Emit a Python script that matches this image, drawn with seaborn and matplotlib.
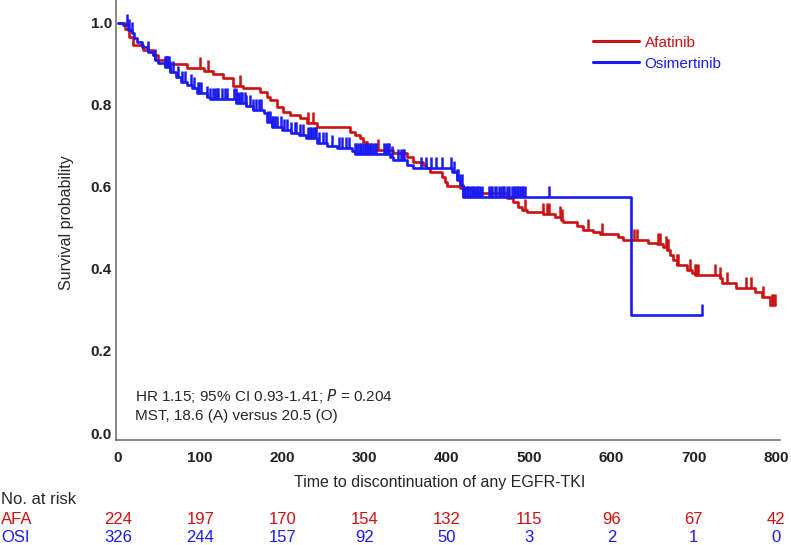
import numpy as np
import pandas as pd
import matplotlib
matplotlib.use("Agg")
import matplotlib.pyplot as plt
from matplotlib.path import Path
import seaborn as sns

# Kaplan-Meier steps (time in days, survival after the drop)
afa_time = [0, 8, 13, 18, 30, 43, 49, 59, 84, 104, 116, 128, 140, 152, 173, 181, 185, 193,
            201, 209, 221, 230, 242, 282, 288, 294, 298, 303, 306, 334, 351, 359, 371, 375,
            379, 394, 398, 400, 416, 432, 473, 480, 486, 491, 497, 517, 531, 539, 541, 558,
            565, 578, 586, 608, 614, 644, 655, 663, 667, 671, 675, 680, 692, 698, 702, 732,
            734, 752, 774, 783, 793, 799]
afa_surv = [1.0, 0.985, 0.965, 0.945, 0.933, 0.921, 0.909, 0.899, 0.889, 0.882, 0.875, 0.865,
            0.845, 0.840, 0.831, 0.819, 0.811, 0.794, 0.782, 0.775, 0.767, 0.755, 0.746, 0.733,
            0.726, 0.719, 0.709, 0.695, 0.689, 0.682, 0.672, 0.660, 0.653, 0.645, 0.636, 0.624,
            0.611, 0.602, 0.597, 0.585, 0.572, 0.563, 0.551, 0.543, 0.538, 0.533, 0.527, 0.519,
            0.514, 0.504, 0.495, 0.489, 0.485, 0.477, 0.470, 0.463, 0.460, 0.453, 0.446, 0.434,
            0.421, 0.409, 0.397, 0.390, 0.385, 0.378, 0.365, 0.353, 0.344, 0.331, 0.312, 0.312]
afa_censor = [100, 109, 148, 231, 237, 316, 495, 517, 522, 524, 537, 540, 572, 589, 628, 631,
              657, 659, 666, 668, 669, 680, 681, 696, 702, 703, 705, 726, 732, 740, 764, 770,
              784, 795, 797, 799]

osi_time = [0, 6, 12, 17, 19, 23, 29, 37, 43, 45, 49, 57, 63, 71, 77, 84, 90, 96, 108, 112,
            144, 156, 164, 177, 181, 187, 199, 211, 220, 229, 242, 254, 266, 284, 288, 331,
            335, 351, 359, 406, 412, 416, 420, 624, 710]
osi_surv = [1.0, 0.994, 0.982, 0.974, 0.962, 0.952, 0.940, 0.928, 0.921, 0.909, 0.901, 0.892,
            0.879, 0.867, 0.855, 0.848, 0.840, 0.828, 0.819, 0.814, 0.804, 0.797, 0.787, 0.780,
            0.758, 0.746, 0.738, 0.731, 0.726, 0.719, 0.707, 0.700, 0.694, 0.687, 0.680, 0.672,
            0.665, 0.653, 0.645, 0.636, 0.616, 0.604, 0.575, 0.287, 0.287]
osi_censor = [11, 14, 17, 37, 45, 57, 58, 59, 60, 61, 62, 63, 67, 73, 78, 81, 89, 93, 97, 99,
              101, 108, 112, 116, 118, 120, 122, 126, 130, 132, 141, 143, 145, 147, 149, 151,
              154, 156, 160, 164, 168, 172, 174, 183, 185, 187, 189, 191, 193, 198, 202, 206,
              211, 215, 217, 221, 225, 231, 233, 235, 237, 239, 241, 245, 249, 253, 260, 269,
              273, 277, 281, 288, 290, 292, 294, 296, 298, 300, 302, 304, 306, 308, 310, 312,
              314, 324, 326, 328, 330, 333, 341, 344, 346, 348, 369, 375, 381, 387, 394, 405,
              408, 412, 414, 416, 418, 420, 422, 424, 426, 428, 430, 432, 434, 436, 438, 440,
              443, 451, 453, 455, 458, 460, 463, 466, 468, 470, 473, 476, 479, 481, 483, 485,
              487, 489, 491, 493, 495, 524, 710]

groups = ["Afatinib", "Osimertinib"]
colors = {"Afatinib": "#CC1111", "Osimertinib": "#1A1AF5"}

risk_times = [0, 100, 200, 300, 400, 500, 600, 700, 800]
risk_afa = [224, 197, 170, 154, 132, 115, 96, 67, 42]
risk_osi = [326, 244, 157, 92, 50, 3, 2, 1, 0]

df = pd.concat([
    pd.DataFrame({"time": afa_time, "surv": afa_surv, "group": "Afatinib"}),
    pd.DataFrame({"time": osi_time, "surv": osi_surv, "group": "Osimertinib"}),
], ignore_index=True)


def surv_at(times, survs, t):
    idx = np.searchsorted(times, t, side="right") - 1
    return np.asarray(survs)[idx]


sns.set_style("white")
plt.rcParams["font.family"] = ["Liberation Sans", "DejaVu Sans"]

fig = plt.figure(figsize=(7.91, 5.45), dpi=100)
ax = fig.add_axes([116 / 791, 1 - 440 / 545, 664 / 791, 440 / 545])

sns.lineplot(data=df, x="time", y="surv", hue="group", palette=colors,
             drawstyle="steps-post", estimator=None, sort=False, linewidth=1.9,
             legend=False, ax=ax)

# censor ticks drawn upward from the curve
tick = Path([(0, 0), (0, 1)], [Path.MOVETO, Path.LINETO])
for name, tt, ss, cc in [("Afatinib", afa_time, afa_surv, afa_censor),
                         ("Osimertinib", osi_time, osi_surv, osi_censor)]:
    ax.plot(cc, surv_at(tt, ss, cc), linestyle="none", marker=tick, markersize=16,
            markeredgewidth=1.8, color=colors[name])

ax.set_xlim(-2.4, 805)
ax.set_ylim(-0.017, 1.055)
ax.set_xticks(risk_times)
ax.set_yticks([0.0, 0.2, 0.4, 0.6, 0.8, 1.0])
ax.set_yticklabels(["0.0", "0.2", "0.4", "0.6", "0.8", "1.0"])
ax.tick_params(axis="both", length=0, labelsize=11)
ax.tick_params(axis="x", pad=8)
ax.tick_params(axis="y", pad=3)
for lab in ax.get_xticklabels() + ax.get_yticklabels():
    lab.set_fontweight("bold")
    lab.set_color("#222222")

for side in ["top", "right"]:
    ax.spines[side].set_visible(False)
for side in ["left", "bottom"]:
    ax.spines[side].set_color("#666666")
    ax.spines[side].set_linewidth(1.1)

ax.set_xlabel("")
ax.set_ylabel("")
fig.text(66 / 791, 1 - 223 / 545, "Survival probability", rotation=90,
         ha="center", va="center", fontsize=11.5)
fig.text(440 / 791, 1 - 483 / 545, "Time to discontinuation of any EGFR-TKI",
         ha="center", va="center", fontsize=11.5)

# legend
handles = [plt.Line2D([], [], color=colors[g], linewidth=2.2) for g in groups]
leg = ax.legend(handles, groups, loc="upper left", bbox_to_anchor=(579 / 791, 1 - 22 / 545),
                bbox_transform=fig.transFigure, frameon=False, fontsize=11,
                handlelength=3.0, handletextpad=0.4, labelspacing=0.45,
                labelcolor="linecolor")

# stats annotation
fig.text(135 / 791, 1 - 396 / 545, "HR 1.15; 95% CI 0.93-1.41; $\\it{P}$ = 0.204",
         ha="left", va="center", fontsize=11)
fig.text(135 / 791, 1 - 416 / 545, "MST, 18.6 (A) versus 20.5 (O)",
         ha="left", va="center", fontsize=11)

# number at risk table
narrow = ["Liberation Sans Narrow", "Liberation Sans", "DejaVu Sans"]
fig.text(1 / 791, 1 - 500 / 545, "No. at risk", ha="left", va="center",
         fontsize=12, family=narrow)
fig.text(1 / 791, 1 - 520 / 545, "AFA", ha="left", va="center", fontsize=12,
         family=narrow, color=colors["Afatinib"])
fig.text(1 / 791, 1 - 538 / 545, "OSI", ha="left", va="center", fontsize=12,
         family=narrow, color=colors["Osimertinib"])
for t, a, o in zip(risk_times, risk_afa, risk_osi):
    xf = ax.transData.transform((t, 0))[0]
    xf = fig.transFigure.inverted().transform((xf, 0))[0]
    fig.text(xf, 1 - 520 / 545, str(a), ha="center", va="center", fontsize=12,
             family=narrow, color=colors["Afatinib"])
    fig.text(xf, 1 - 538 / 545, str(o), ha="center", va="center", fontsize=12,
             family=narrow, color=colors["Osimertinib"])

fig.savefig("out.png", dpi=100)
